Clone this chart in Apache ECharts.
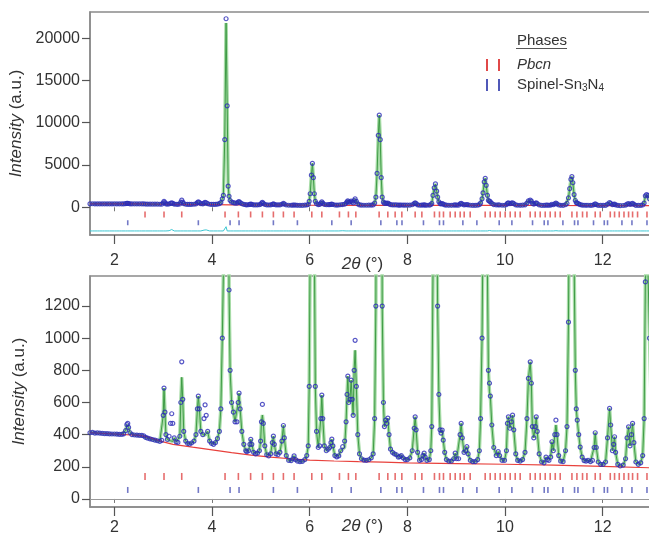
<!DOCTYPE html>
<html>
<head>
<meta charset="utf-8">
<script src="https://cdn.jsdelivr.net/npm/echarts@6/dist/echarts.min.js"></script>
<style>
html, body { margin: 0; padding: 0; background: #fff; }
#chart { width: 649px; height: 533px; }
</style>
</head>
<body>
<div id="chart"></div>
<script>
// observed pattern: [2theta (deg), intensity (a.u.)]
const obs = [
  [1.50,412],[1.55,414],[1.60,410],[1.65,411],[1.70,409],[1.75,408],[1.80,407],[1.85,406],[1.90,405],[1.95,404],
  [2.00,404],[2.05,403],[2.10,402],[2.15,402],[2.19,405],[2.23,425],[2.255,462],[2.273,470],[2.29,445],[2.32,412],
  [2.36,400],[2.41,398],[2.46,397],[2.51,396],[2.56,395],[2.60,392],[2.64,383],[2.68,378],[2.73,374],[2.78,370],
  [2.83,366],[2.88,362],[2.93,358],[2.97,365],[3.00,520],[3.016,690],[3.035,540],[3.055,400],[3.085,370],[3.12,390],
  [3.15,470],[3.174,530],[3.195,470],[3.225,380],[3.265,355],[3.30,352],[3.34,390],[3.36,600],[3.379,853],[3.40,620],
  [3.42,420],[3.46,360],[3.50,345],[3.54,342],[3.58,348],[3.63,360],[3.67,400],[3.70,560],[3.719,640],[3.74,560],
  [3.77,420],[3.81,400],[3.835,500],[3.857,585],[3.88,520],[3.91,420],[3.95,360],[3.99,345],[4.03,340],[4.07,350],
  [4.11,375],[4.15,420],[4.18,560],[4.21,1000],[4.232,1400],[4.26,8000],[4.287,22300],[4.31,12000],[4.33,2500],[4.348,1300],
  [4.37,800],[4.40,600],[4.437,540],[4.47,480],[4.51,480],[4.535,600],[4.553,658],[4.575,560],[4.61,420],[4.65,340],
  [4.69,300],[4.711,294],[4.75,300],[4.775,340],[4.793,371],[4.815,340],[4.85,290],[4.89,280],[4.93,285],[4.97,300],
  [4.995,360],[5.012,480],[5.031,588],[5.05,470],[5.08,330],[5.12,275],[5.16,268],[5.20,280],[5.235,350],[5.256,391],
  [5.275,340],[5.31,280],[5.35,275],[5.39,290],[5.43,360],[5.461,457],[5.48,380],[5.52,270],[5.57,240],[5.62,238],
  [5.655,250],[5.68,268],[5.71,245],[5.75,235],[5.80,232],[5.85,234],[5.90,245],[5.94,270],[5.97,330],[5.99,700],
  [6.01,1600],[6.035,3800],[6.055,5200],[6.075,3500],[6.095,1600],[6.115,700],[6.14,420],[6.175,320],[6.205,330],[6.228,500],
  [6.248,646],[6.268,500],[6.30,330],[6.34,300],[6.38,310],[6.41,320],[6.435,350],[6.453,372],[6.475,330],[6.515,270],
  [6.555,262],[6.595,268],[6.635,300],[6.675,325],[6.715,360],[6.745,480],[6.765,650],[6.781,764],[6.80,600],[6.825,620],
  [6.849,739],[6.87,620],[6.89,520],[6.91,800],[6.93,987],[6.955,700],[6.985,400],[7.02,280],[7.06,250],[7.11,242],
  [7.16,240],[7.21,244],[7.26,255],[7.30,280],[7.33,500],[7.355,1200],[7.38,4000],[7.405,8500],[7.425,10900],[7.445,8000],
  [7.465,3500],[7.485,1200],[7.51,600],[7.53,450],[7.555,490],[7.578,470],[7.60,503],[7.625,400],[7.655,310],[7.695,290],
  [7.735,280],[7.775,275],[7.815,260],[7.845,263],[7.875,270],[7.915,255],[7.955,245],[8.00,245],[8.05,255],[8.10,300],
  [8.14,440],[8.16,511],[8.18,430],[8.21,290],[8.25,240],[8.29,245],[8.32,270],[8.344,285],[8.365,260],[8.40,240],
  [8.45,245],[8.48,300],[8.50,450],[8.525,1400],[8.55,2300],[8.575,2760],[8.60,1900],[8.62,1200],[8.645,650],[8.67,430],
  [8.69,410],[8.713,428],[8.735,366],[8.765,290],[8.80,245],[8.85,235],[8.90,235],[8.95,250],[8.98,285],[9.01,250],
  [9.05,250],[9.08,400],[9.102,470],[9.125,380],[9.16,290],[9.195,300],[9.219,325],[9.245,280],[9.29,240],[9.34,232],
  [9.39,232],[9.44,245],[9.475,300],[9.50,500],[9.53,1000],[9.55,1700],[9.575,3000],[9.595,3430],[9.615,2600],[9.64,1400],
  [9.66,800],[9.682,720],[9.70,640],[9.73,460],[9.77,320],[9.82,270],[9.861,294],[9.89,270],[9.94,240],[9.99,240],
  [10.03,300],[10.05,470],[10.07,511],[10.10,440],[10.13,480],[10.155,521],[10.18,430],[10.22,280],[10.26,240],[10.31,235],
  [10.36,245],[10.41,290],[10.45,500],[10.48,750],[10.517,853],[10.54,720],[10.56,450],[10.59,380],[10.62,450],[10.64,511],
  [10.66,420],[10.70,280],[10.75,230],[10.80,225],[10.84,260],[10.87,245],[10.90,240],[10.935,260],[10.961,356],[10.99,300],
  [11.02,400],[11.043,490],[11.065,400],[11.10,270],[11.14,235],[11.19,232],[11.24,300],[11.27,450],[11.30,1100],[11.325,2200],
  [11.35,3300],[11.37,3620],[11.39,2900],[11.415,1500],[11.44,800],[11.46,560],[11.48,490],[11.51,400],[11.54,323],[11.58,260],
  [11.62,239],[11.66,235],[11.70,240],[11.75,232],[11.79,240],[11.825,320],[11.848,412],[11.87,320],[11.91,230],[11.96,215],
  [12.01,215],[12.06,230],[12.10,380],[12.142,563],[12.165,460],[12.20,300],[12.225,340],[12.244,387],[12.265,290],[12.31,215],
  [12.36,205],[12.42,210],[12.47,250],[12.50,380],[12.531,449],[12.56,330],[12.59,400],[12.613,470],[12.64,350],[12.68,230],
  [12.73,215],[12.78,225],[12.82,270],[12.85,500],[12.875,1350],[12.90,1500],[12.93,1400],[12.96,1000],[13.0,500],[13.04,300]
]
// where the calculated profile differs from the observed points
const calcFix = [
  [3.12,365],[3.15,362],[3.174,360],[3.195,358],[3.379,757],[3.835,400],[3.857,398],[3.88,395],
  [4.287,21800],[5.031,522],[6.675,300],[6.715,320],[6.93,925],[9.682,666],[11.043,460]
]
// refined background
const background = [
  [1.5,412],[2.0,404],[2.5,395],[2.7,385],[3.0,355],[3.2,340],[3.6,322],[4.0,305],[4.4,288],[4.8,273],
  [5.2,260],[5.6,250],[6.0,242],[6.5,236],[7.0,232],[7.5,229],[8.0,224],[9.0,220],[10.0,216],[11.0,210],
  [12.0,203],[13.4,190]
]
// reflection positions
const pbcnTicks = [
  2.627,3.016,3.379,4.266,4.539,4.79,5.031,5.256,5.461,5.68,6.043,6.248,6.609,6.793,6.945,7.422,7.60,7.75,7.887,
  8.16,8.297,8.555,8.658,8.74,8.877,8.98,9.082,9.164,9.287,9.594,9.697,9.799,9.902,10.004,10.107,10.209,10.311,
  10.516,10.619,10.721,10.824,10.926,11.029,11.131,11.371,11.473,11.588,11.678,11.848,11.951,12.156,12.244,12.34,
  12.437,12.531,12.613,12.715,12.908
]
const spinelTicks = [
  2.273,3.719,4.369,4.553,5.256,5.748,6.453,6.849,7.457,7.785,7.89,8.33,8.658,8.74,9.137,9.424,9.881,10.141,
  10.564,10.803,10.879,11.186,11.424,11.494,11.813,12.033,12.1,12.395,12.6,12.908
]
const xTicks = [2, 4, 6, 8, 10, 12]
const yTicksTop = [0, 5000, 10000, 15000, 20000]
const yTicksBottom = [0, 200, 400, 600, 800, 1000, 1200]
const diffOffset = -2800

const FONT = 'Liberation Sans, Arial, sans-serif'
const TXT = '#333'
const FRAME = '#8a8a8a'

const fixMap = {}
calcFix.forEach(([x, y]) => { fixMap[x] = y })
const calc = obs.map(([x, y]) => [x, fixMap[x] !== undefined ? fixMap[x] : y])
const diff = obs.map(([x, y], i) => [x, y - calc[i][1] + diffOffset])

function xAxisBottom(g, margin) {
	return {
		type: 'value', gridIndex: g, min: 1.5, max: 13.4, position: 'bottom',
		axisLine: { show: true, onZero: false, lineStyle: { color: FRAME, width: 1.5 } },
		axisTick: { show: true, length: 9, customValues: xTicks, lineStyle: { color: '#555', width: 1.2 } },
		axisLabel: { customValues: xTicks, fontSize: 16, color: TXT, fontFamily: FONT, margin: margin },
		splitLine: { show: false }
	}
}
function xAxisTop(g) {
	return {
		type: 'value', gridIndex: g, min: 1.5, max: 13.4, position: 'top',
		axisLine: { show: false },
		axisTick: { show: true, inside: true, length: 4, customValues: xTicks, lineStyle: { color: '#777' } },
		axisLabel: { show: false },
		splitLine: { show: false }
	}
}
function yAxis(g, min, max, ticks) {
	return {
		type: 'value', gridIndex: g, min: min, max: max,
		name: '{i|Intensity} (a.u.)', nameLocation: 'middle', nameGap: 62,
		nameTextStyle: {
			fontSize: 17, color: TXT, fontFamily: FONT,
			rich: { i: { fontSize: 17, color: TXT, fontFamily: FONT, fontStyle: 'italic' } }
		},
		axisLine: { show: true, lineStyle: { color: FRAME, width: 1.5 } },
		axisTick: { show: true, length: 8, customValues: ticks, lineStyle: { color: '#555', width: 1.2 } },
		axisLabel: {
			customValues: ticks, fontSize: 16, color: TXT, fontFamily: FONT, margin: 10,
			formatter: (v) => String(v)
		},
		splitLine: { show: false }
	}
}

function panelSeries(xi, yi, redY, blueY, tickH, withDiff) {
	const s = [
		{
			type: 'line', xAxisIndex: xi, yAxisIndex: yi, data: calc, symbol: 'none',
			lineStyle: { color: '#a6dba6', width: 3.5 }, z: 2
		},
		{
			type: 'line', xAxisIndex: xi, yAxisIndex: yi, data: calc, symbol: 'none',
			lineStyle: { color: '#3f9b46', width: 1 }, z: 3
		},
		{
			type: 'line', xAxisIndex: xi, yAxisIndex: yi, data: background, symbol: 'none',
			lineStyle: { color: '#e8413c', width: 1.2 }, z: 4,
			markLine: withDiff ? undefined : {
				silent: true, symbol: 'none', label: { show: false },
				lineStyle: { color: '#999', width: 1, type: 'solid' },
				data: [{ yAxis: 0 }]
			}
		},
		{
			type: 'scatter', xAxisIndex: xi, yAxisIndex: yi, data: obs, symbol: 'circle', symbolSize: 4,
			itemStyle: { color: 'rgba(0,0,0,0)', borderColor: '#2c2cb8', borderWidth: 1.2 }, z: 5
		},
		{
			type: 'scatter', xAxisIndex: xi, yAxisIndex: yi, data: pbcnTicks.map(x => [x, redY]),
			symbol: 'rect', symbolSize: [1.6, tickH], itemStyle: { color: '#e04848' }, z: 5
		},
		{
			type: 'scatter', xAxisIndex: xi, yAxisIndex: yi, data: spinelTicks.map(x => [x, blueY]),
			symbol: 'rect', symbolSize: [1.6, tickH - 1], itemStyle: { color: '#5058b8' }, z: 5
		}
	]
	if (withDiff) {
		s.push({
			type: 'line', xAxisIndex: xi, yAxisIndex: yi, data: diff, symbol: 'none',
			lineStyle: { color: '#3cc6d2', width: 1 }, z: 4
		})
	}
	return s
}

const chart = echarts.init(document.getElementById('chart'))
chart.setOption({
	animation: false,
	backgroundColor: '#fff',
	textStyle: { fontFamily: FONT },
	grid: [
		{ left: 90, top: 12, width: 581, height: 223, show: true, borderColor: FRAME, borderWidth: 1.5, containLabel: false, outerBoundsMode: 'none' },
		{ left: 90, top: 276, width: 581, height: 231, show: true, borderColor: FRAME, borderWidth: 1.5, containLabel: false, outerBoundsMode: 'none' }
	],
	xAxis: [xAxisBottom(0, 18), xAxisTop(0), xAxisBottom(1, 13), xAxisTop(1)],
	yAxis: [yAxis(0, -3280, 23100, yTicksTop), yAxis(1, -50, 1387, yTicksBottom)],
	series: [
		...panelSeries(0, 0, -850, -1830, 6, true),
		...panelSeries(2, 1, 140, 56, 7, false)
	],
	graphic: [
		{ type: 'text', x: 362.5, y: 264, style: { text: '{i|2θ} (°)', align: 'center', verticalAlign: 'middle', fontSize: 17, fill: TXT, fontFamily: FONT, rich: { i: { fontSize: 17, fontStyle: 'italic', fill: TXT, fontFamily: FONT } } } },
		{ type: 'text', x: 362.5, y: 526, style: { text: '{i|2θ} (°)', align: 'center', verticalAlign: 'middle', fontSize: 17, fill: TXT, fontFamily: FONT, rich: { i: { fontSize: 17, fontStyle: 'italic', fill: TXT, fontFamily: FONT } } } },
		// phase legend
		{ type: 'text', x: 517, y: 41, style: { text: 'Phases', verticalAlign: 'middle', fontSize: 15, fill: TXT, fontFamily: FONT } },
		{ type: 'line', shape: { x1: 516, y1: 48.5, x2: 567, y2: 48.5 }, style: { stroke: '#555', lineWidth: 1 } },
		{ type: 'line', shape: { x1: 487, y1: 59, x2: 487, y2: 71 }, style: { stroke: '#e04848', lineWidth: 2 } },
		{ type: 'line', shape: { x1: 499, y1: 59, x2: 499, y2: 71 }, style: { stroke: '#e04848', lineWidth: 2 } },
		{ type: 'text', x: 517, y: 65, style: { text: 'Pbcn', verticalAlign: 'middle', fontSize: 15, fontStyle: 'italic', fill: TXT, fontFamily: FONT } },
		{ type: 'line', shape: { x1: 487, y1: 79, x2: 487, y2: 91 }, style: { stroke: '#5058b8', lineWidth: 2 } },
		{ type: 'line', shape: { x1: 499, y1: 79, x2: 499, y2: 91 }, style: { stroke: '#5058b8', lineWidth: 2 } },
		{ type: 'text', x: 517, y: 85, style: { text: 'Spinel-Sn{s|3}N{s|4}', verticalAlign: 'middle', fontSize: 15, fill: TXT, fontFamily: FONT, rich: { s: { fontSize: 10, fill: TXT, fontFamily: FONT, padding: [7, 0, 0, 0] } } } }
	]
})
</script>
</body>
</html>
